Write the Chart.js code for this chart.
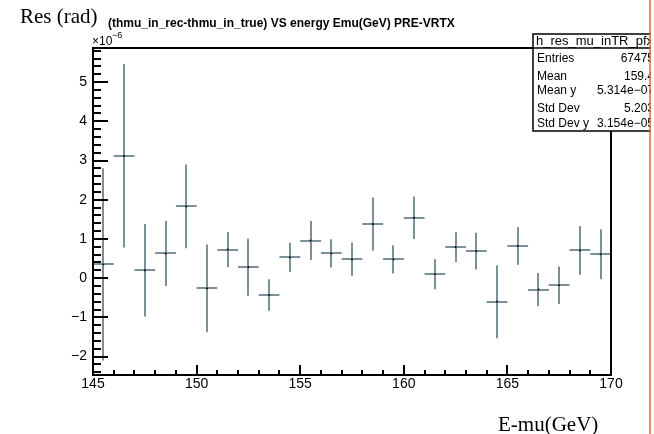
<!DOCTYPE html>
<html lang="en">
<head>
  <meta charset="UTF-8" />
  <title>Res vs E-mu</title>
  <script src="https://cdn.jsdelivr.net/npm/chart.js"></script>
  <style>
    html, body { margin: 0; padding: 0; background: #fff; }
    #wrap { width: 654px; height: 434px; }
  </style>
</head>
<body>
  <div id="wrap"><canvas id="grafico" width="654" height="434"></canvas></div>

  <script>
    // bin centres (GeV), profile means and errors (units of 1e-6 rad)
    const binCenters = [145.5, 146.5, 147.5, 148.5, 149.5, 150.5, 151.5, 152.5, 153.5, 154.5,
                        155.5, 156.5, 157.5, 158.5, 159.5, 160.5, 161.5, 162.5, 163.5, 164.5,
                        165.5, 166.5, 167.5, 168.5, 169.5];
    const resValues = [0.35, 3.12, 0.20, 0.63, 1.83, -0.26, 0.73, 0.28, -0.43, 0.53,
                       0.96, 0.63, 0.48, 1.38, 0.48, 1.54, 0.10, 0.79, 0.69, -0.60,
                       0.82, -0.29, -0.18, 0.71, 0.61];
    const resErrors = [2.45, 2.34, 1.18, 0.83, 1.07, 1.12, 0.45, 0.73, 0.40, 0.37,
                       0.50, 0.36, 0.42, 0.68, 0.36, 0.54, 0.38, 0.38, 0.47, 0.93,
                       0.48, 0.42, 0.48, 0.62, 0.64];
    const binHalfWidth = 0.5;

    const xTickLabels = [145, 150, 155, 160, 165, 170];
    const yTickLabels = [-2, -1, 0, 1, 2, 3, 4, 5];

    const statNames = ["Entries", "Mean", "Mean y", "Std Dev", "Std Dev y"];
    const statValues = ["67475", "159.4", "5.314e\u221207", "5.203", "3.154e\u221205"];

    const puntos = binCenters.map((x, i) => ({ x: x, y: resValues[i] }));

    const sans = '"Liberation Sans", Arial, sans-serif';
    const serif = '"Liberation Serif", "DejaVu Serif", serif';

    const barColor = "#7b9099";

    const erroresPlugin = {
      id: "errores",
      beforeDatasetsDraw(chart) {
        const ctx = chart.ctx;
        const xs = chart.scales.x, ys = chart.scales.y;
        ctx.save();
        ctx.strokeStyle = barColor;
        ctx.lineWidth = 2;
        binCenters.forEach((x, i) => {
          const px = Math.round(xs.getPixelForValue(x));
          const py = Math.round(ys.getPixelForValue(resValues[i]));
          const top = ys.getPixelForValue(resValues[i] + resErrors[i]);
          const bot = ys.getPixelForValue(resValues[i] - resErrors[i]);
          const l = xs.getPixelForValue(x - binHalfWidth);
          const r = xs.getPixelForValue(x + binHalfWidth);
          ctx.beginPath();
          ctx.moveTo(px, top); ctx.lineTo(px, bot);
          ctx.moveTo(l, py); ctx.lineTo(r, py);
          ctx.stroke();
        });
        ctx.restore();
      }
    };

    const marcoPlugin = {
      id: "marco",
      afterDraw(chart) {
        const ctx = chart.ctx;
        const { left, right, top, bottom } = chart.chartArea;
        const xs = chart.scales.x, ys = chart.scales.y;
        ctx.save();

        // frame
        ctx.strokeStyle = "#000";
        ctx.lineWidth = 2;
        ctx.strokeRect(left, top, right - left, bottom - top);

        // y ticks (inward)
        ctx.beginPath();
        for (let v = -2.4; v <= 5.81; v += 0.2) {
          const vv = Math.round(v * 10) / 10;
          const py = Math.round(ys.getPixelForValue(vv));
          const major = Math.abs(vv - Math.round(vv)) < 1e-6;
          ctx.moveTo(left, py);
          ctx.lineTo(left + (major ? 15 : 8), py);
        }
        // x ticks (inward)
        for (let v = 145; v <= 170; v++) {
          const px = Math.round(xs.getPixelForValue(v));
          const major = v % 5 === 0;
          ctx.moveTo(px, bottom);
          ctx.lineTo(px, bottom - (major ? 10 : 5));
        }
        ctx.stroke();

        // tick labels
        ctx.fillStyle = "#000";
        ctx.font = "14px " + sans;
        ctx.textAlign = "right";
        ctx.textBaseline = "middle";
        yTickLabels.forEach(v => {
          const txt = v < 0 ? "\u2212" + Math.abs(v) : String(v);
          ctx.fillText(txt, left - 6, ys.getPixelForValue(v));
        });
        ctx.textAlign = "center";
        ctx.textBaseline = "top";
        xTickLabels.forEach(v => {
          ctx.fillText(String(v), xs.getPixelForValue(v), bottom + 2);
        });

        // exponent
        ctx.textAlign = "left";
        ctx.textBaseline = "alphabetic";
        ctx.font = "12px " + sans;
        ctx.fillText("\u00d710", left - 1, top - 3);
        ctx.font = "9px " + sans;
        ctx.fillText("\u22126", left + 19, top - 10);

        // titles
        ctx.font = "bold 12px " + sans;
        ctx.textAlign = "left";
        ctx.textBaseline = "middle";
        ctx.fillText("(thmu_in_rec-thmu_in_true) VS energy Emu(GeV) PRE-VRTX", 108, 24);

        ctx.font = "21px " + serif;
        ctx.textBaseline = "alphabetic";
        ctx.fillText("Res (rad)", 20, 23);
        ctx.fillText("E-mu(GeV)", 498, 431);

        // stats box
        const bx = 533, by = 34, bw = 130, bh = 97;
        ctx.fillStyle = "#fff";
        ctx.fillRect(bx, by, bw, bh);
        ctx.strokeStyle = "#000";
        ctx.lineWidth = 1.5;
        ctx.strokeRect(bx, by, bw, bh);
        ctx.beginPath();
        ctx.moveTo(bx, 48); ctx.lineTo(bx + bw, 48);
        ctx.stroke();
        ctx.fillStyle = "#000";
        ctx.font = "13px " + sans;
        ctx.textBaseline = "middle";
        ctx.fillText("h_res_mu_inTR_pfx", bx + 3, 41);
        ctx.font = "12px " + sans;
        const rowsY = [59, 77, 91, 109, 124];
        statNames.forEach((n, i) => {
          ctx.textAlign = "left";
          ctx.fillText(n, bx + 4, rowsY[i]);
          ctx.textAlign = "right";
          ctx.fillText(statValues[i], 654, rowsY[i]);
        });

        // right-hand clip and orange line
        ctx.fillStyle = "#fff";
        ctx.fillRect(651, 0, 3, 434);
        ctx.strokeStyle = "#e8643f";
        ctx.lineWidth = 1.5;
        ctx.beginPath();
        ctx.moveTo(650, 0); ctx.lineTo(650, 434);
        ctx.stroke();

        ctx.restore();
      }
    };

    const ctx = document.getElementById("grafico").getContext("2d");

    new Chart(ctx, {
      type: "scatter",
      data: {
        datasets: [{
          data: puntos,
          backgroundColor: "#000",
          borderColor: "#000",
          pointStyle: "rect",
          pointRadius: 1.2,
          borderWidth: 0
        }]
      },
      options: {
        responsive: false,
        animation: false,
        layout: { padding: { left: 93, right: 43, top: 48, bottom: 59 } },
        scales: {
          x: { type: "linear", min: 145, max: 170, display: false },
          y: { type: "linear", min: -2.47, max: 5.87, display: false }
        },
        plugins: {
          legend: { display: false },
          tooltip: { enabled: false }
        }
      },
      plugins: [erroresPlugin, marcoPlugin]
    });
  </script>
</body>
</html>
